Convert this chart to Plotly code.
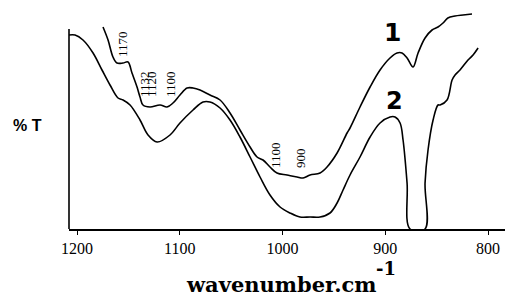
import plotly.graph_objects as go

# Curve 1 (upper trace) : wavenumber (cm-1) and %T (arbitrary, 0-100 scale of the y-axis line)
w1 = [1174.7, 1169.8, 1165.0, 1161.1, 1155.2, 1150.4, 1146.5, 1141.6, 1138.7, 1135.8,
      1129.0, 1119.2, 1112.4, 1106.6, 1099.8, 1092.9, 1087.1, 1080.3, 1070.6, 1060.8,
      1051.1, 1041.4, 1031.6, 1024.8, 1019.0, 1012.2, 1005.4, 995.6, 985.9, 980.0,
      973.2, 963.5, 956.7, 946.9, 937.2, 934.3, 924.6, 914.8, 905.1, 895.4,
      888.6, 883.7, 878.8, 873.0, 868.1, 861.3, 854.5, 848.7, 843.8, 839.1,
      832.1, 824.3, 815.6]
t1 = [101, 94.5, 86, 83, 83, 83.5, 78, 71, 66, 62,
      61, 62, 61, 63, 67, 70.5, 70.5, 69.5, 67, 64.5,
      58, 49.5, 41, 36, 34.5, 31, 28, 27, 26, 25.5,
      27, 28, 31, 38, 48, 50.5, 61, 71, 79.5, 85.5,
      88, 88, 85.5, 81, 88, 95.5, 99.5, 101, 103, 105.5,
      106.5, 107, 107.5]

# Curve 2 (lower trace)
w2 = [1207.8, 1201.9, 1194.2, 1184.4, 1175.7, 1167.9, 1160.1, 1155.2, 1148.4, 1138.7,
      1130.9, 1122.1, 1109.5, 1099.8, 1087.1, 1077.4, 1070.6, 1060.8, 1051.1, 1041.4,
      1031.6, 1021.9, 1012.2, 1002.4, 992.7, 983.0, 973.2, 963.5, 953.8, 946.9,
      941.1, 934.3, 924.6, 914.8, 905.1, 895.4, 890.5, 885.6, 882.7, 878.8,
      875.9, 861.3, 861.3, 858.4, 853.5, 848.7, 846.7, 839.9, 835.0, 832.1,
      827.3, 819.5, 814.6, 809.7]
t2 = [97, 97, 94.5, 88, 79.5, 72, 65.5, 64.5, 62, 54.5,
      47, 43.5, 47, 53, 59.5, 63.5, 63.5, 60.5, 54.5, 46,
      36, 26, 17, 11, 8, 6, 6, 6, 8, 13,
      19.5, 27, 36, 46, 53, 56, 56, 53, 44.5, 23,
      0, 0, 23, 39.5, 54.5, 62, 62, 64.5, 74.5, 77,
      79.5, 84.5, 87, 90.5]

# Band labels: (text, wavenumber, %T)
band_text = ["1170", "1132", "1120", "1100", "1100", "900"]
band_w = [1156.2, 1134.8, 1128.0, 1109.5, 1007.3, 983.0]
band_t = [92.5, 72.5, 72.5, 72.5, 37, 35.5]

tick_vals = [1200, 1100, 1000, 900, 800]
tick_text = ["1200", "1100", "1000", "900", "800"]

fig = go.Figure()
fig.add_trace(go.Scatter(x=w1, y=t1, mode="lines", line=dict(color="black", width=1.6),
                         line_shape="spline", showlegend=False, hoverinfo="skip"))
fig.add_trace(go.Scatter(x=w2, y=t2, mode="lines", line=dict(color="black", width=1.6),
                         line_shape="spline", showlegend=False, hoverinfo="skip"))

serif = "Liberation Serif"
for txt, bw, bt in zip(band_text, band_w, band_t):
    fig.add_annotation(x=bw, y=bt, text=txt, showarrow=False, textangle=-90,
                       xanchor="center", yanchor="middle",
                       font=dict(family=serif, size=13, color="black"))

# curve numbers
fig.add_annotation(x=1200 - (392 - 77) / 1.0275, y=(229 - 32) / 2, text="<b>1</b>",
                   showarrow=False, xanchor="center", yanchor="middle",
                   font=dict(family="DejaVu Sans", size=25, color="black"))
fig.add_annotation(x=1200 - (394 - 77) / 1.0275, y=(229 - 101) / 2, text="<b>2</b>",
                   showarrow=False, xanchor="center", yanchor="middle",
                   font=dict(family="DejaVu Sans", size=24, color="black"))

# y label
fig.add_annotation(xref="paper", yref="paper", x=(27 - 69) / 436, y=(229 - 125) / 229,
                   text="<b>% T</b>", showarrow=False, xanchor="center", yanchor="middle",
                   font=dict(family="Liberation Sans", size=16, color="black"))

# x axis title
fig.add_annotation(xref="paper", yref="paper", x=(281 - 69) / 436, y=(229 - 284) / 229,
                   text="<b>wavenumber.cm</b>", showarrow=False, xanchor="center", yanchor="middle",
                   font=dict(family="DejaVu Serif", size=21, color="black"))
fig.add_annotation(xref="paper", yref="paper", x=(386 - 69) / 436, y=(229 - 268) / 229,
                   text="<b>-1</b>", showarrow=False, xanchor="center", yanchor="middle",
                   font=dict(family="DejaVu Serif", size=18, color="black"))

# left axis line (spans 0..100 %T)
fig.add_shape(type="line", xref="paper", yref="y", x0=0, x1=0, y0=0, y1=100,
              line=dict(color="black", width=1.6))

fig.update_layout(
    width=505, height=297,
    margin=dict(l=69, r=0, t=0, b=68),
    paper_bgcolor="white", plot_bgcolor="white",
    hovermode=False,
    xaxis=dict(range=[1207.8, 783.5], tickvals=tick_vals, ticktext=tick_text,
               showline=True, linecolor="black", linewidth=1.6,
               ticks="outside", ticklen=4, tickcolor="black", tickwidth=1.3,
               showgrid=False, zeroline=False,
               tickfont=dict(family=serif, size=16, color="black")),
    yaxis=dict(range=[0, 114.5], showticklabels=False, showgrid=False,
               zeroline=False, showline=False, ticks=""),
)

fig.write_html("out.html", config={"displayModeBar": False},
               post_script="document.body.style.margin='0';")
